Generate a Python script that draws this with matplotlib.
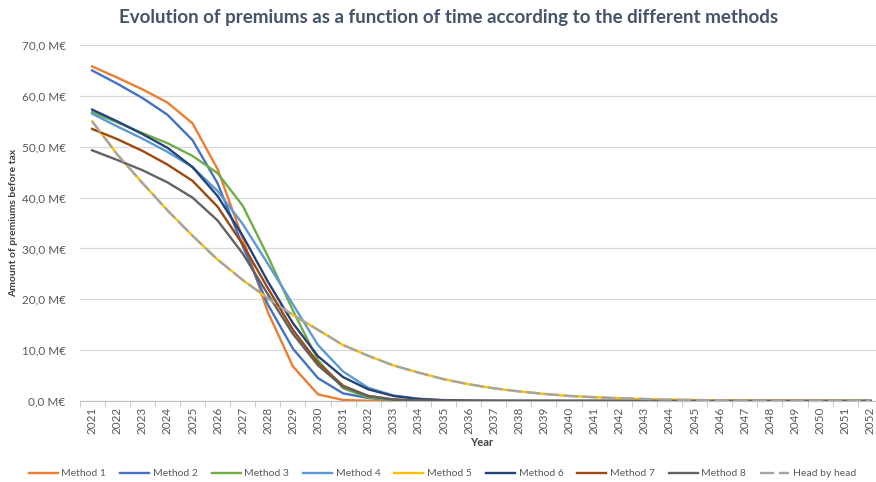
import matplotlib
matplotlib.use("Agg")
import matplotlib.pyplot as plt
from matplotlib.ticker import FuncFormatter, FixedLocator

years = list(range(2021, 2053))

method_1 = [65.8, 63.6, 61.3, 58.7, 54.6, 45.6, 32.0, 17.5, 6.8, 1.3, 0.2, 0.05, 0.02, 0.01,
            0, 0, 0, 0, 0, 0, 0, 0, 0, 0, 0, 0, 0, 0, 0, 0, 0, 0]
method_2 = [65.0, 62.4, 59.6, 56.3, 51.3, 42.8, 30.5, 19.0, 10.3, 4.5, 1.5, 0.6, 0.2, 0.1,
            0.05, 0.02, 0.01, 0, 0, 0, 0, 0, 0, 0, 0, 0, 0, 0, 0, 0, 0, 0]
method_3 = [56.8, 54.8, 52.7, 50.7, 48.2, 44.8, 38.4, 28.5, 17.8, 8.0, 2.5, 0.7, 0.2, 0.08,
            0.03, 0.01, 0, 0, 0, 0, 0, 0, 0, 0, 0, 0, 0, 0, 0, 0, 0, 0]
method_4 = [56.5, 54.0, 51.6, 49.0, 46.0, 41.3, 34.8, 27.0, 19.0, 11.0, 5.8, 2.6, 1.1, 0.45,
            0.18, 0.07, 0.03, 0.01, 0, 0, 0, 0, 0, 0, 0, 0, 0, 0, 0, 0, 0, 0]
method_5 = [55.0, 48.5, 42.9, 37.5, 32.5, 27.8, 23.8, 20.2, 16.9, 14.0, 11.0, 8.9, 7.0, 5.6,
            4.3, 3.3, 2.5, 1.9, 1.4, 1.0, 0.75, 0.55, 0.4, 0.28, 0.2, 0.14, 0.1, 0.07, 0.05,
            0.03, 0.02, 0.01]
method_6 = [57.3, 55.0, 52.5, 49.8, 46.0, 40.3, 32.5, 23.5, 15.3, 8.8, 4.7, 2.3, 1.0, 0.4,
            0.15, 0.05, 0.02, 0.01, 0, 0, 0, 0, 0, 0, 0, 0, 0, 0, 0, 0, 0, 0]
method_7 = [53.5, 51.5, 49.2, 46.5, 43.3, 38.2, 30.8, 22.2, 14.0, 7.5, 3.0, 1.0, 0.3, 0.1,
            0.04, 0.01, 0, 0, 0, 0, 0, 0, 0, 0, 0, 0, 0, 0, 0, 0, 0, 0]
method_8 = [49.3, 47.4, 45.4, 43.0, 40.0, 35.5, 29.0, 21.0, 13.2, 7.0, 2.8, 1.0, 0.3, 0.1,
            0.04, 0.01, 0, 0, 0, 0, 0, 0, 0, 0, 0, 0, 0, 0, 0, 0, 0, 0]
head_by_head = list(method_5)

series = [
    ("Method 1", method_1, "#ED7D31", "-"),
    ("Method 2", method_2, "#4472C4", "-"),
    ("Method 3", method_3, "#70AD47", "-"),
    ("Method 4", method_4, "#5B9BD5", "-"),
    ("Method 5", method_5, "#FFC000", "-"),
    ("Method 6", method_6, "#264478", "-"),
    ("Method 7", method_7, "#9E480E", "-"),
    ("Method 8", method_8, "#636363", "-"),
    ("Head by head", head_by_head, "#A5A5A5", "--"),
]

plt.rcParams['font.family'] = ['Lato', 'DejaVu Sans']

fig = plt.figure(figsize=(8.76, 4.82), dpi=100)
ax = fig.add_axes([0.0908, 0.168, 0.917, 0.7386])

x = list(range(len(years)))
for name, vals, col, ls in series:
    if ls == "--":
        ax.plot(x, vals, color=col, lw=1.7, ls=(0, (6, 2)), label=name, zorder=3)
    else:
        ax.plot(x, vals, color=col, lw=1.7, ls=ls, label=name, zorder=3)

ax.set_xlim(-0.5, len(years) - 0.5)
ax.set_ylim(0, 70)
ax.set_yticks(range(0, 71, 10))
ax.yaxis.set_major_formatter(FuncFormatter(lambda v, p: f"{v:.1f}".replace(".", ",") + " M€"))
ax.grid(axis="y", color="#D9D9D9", lw=0.9, zorder=0)
ax.set_axisbelow(True)

ax.set_xticks(x)
ax.set_xticklabels([str(y) for y in years], rotation=90, fontsize=8.5, color="#595959")
ax.xaxis.set_minor_locator(FixedLocator([i - 0.5 for i in range(len(years) + 1)]))
ax.tick_params(axis="x", which="major", length=0, pad=4)
ax.tick_params(axis="x", which="minor", length=4, color="#BFBFBF")
ax.tick_params(axis="y", length=0, labelsize=8.5, labelcolor="#595959", pad=10)

for s in ["top", "right", "left"]:
    ax.spines[s].set_visible(False)
ax.spines["bottom"].set_color("#BFBFBF")

ax.set_ylabel("Amount of premiums before tax", fontsize=7.5, color="#404040",
              fontweight="bold")
ax.yaxis.set_label_coords(-0.076, 0.5)
ax.set_xlabel("Year", fontsize=8, color="#404040", fontweight="bold")
ax.xaxis.set_label_coords((482 - 79.5) / (883 - 79.5), -0.10)

fig.text(0.512, 0.963, "Evolution of premiums as a function of time according to the different methods",
         ha="center", va="center", fontsize=13.5, fontweight="bold", color="#44546A")

leg = fig.legend(loc="center", bbox_to_anchor=(0.505, 0.017), ncol=9, frameon=False,
                 fontsize=7.5, handlelength=2.8, columnspacing=1.32, handletextpad=0.35,
                 labelcolor="#595959")

fig.savefig("out.png", dpi=100)
